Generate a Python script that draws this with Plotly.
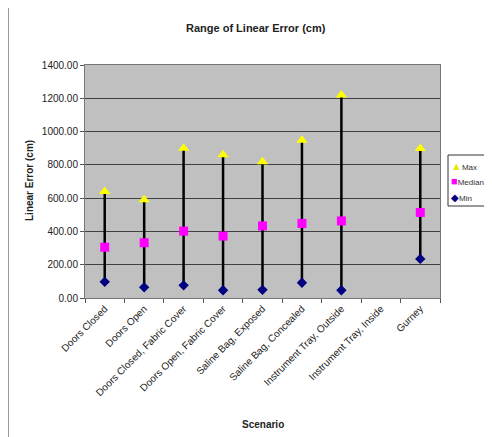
import plotly.graph_objects as go

categories = ["Doors Closed", "Doors Open", "Doors Closed, Fabric Cover",
              "Doors Open, Fabric Cover", "Saline Bag, Exposed", "Saline Bag, Concealed",
              "Instrument Tray, Outside", "Instrument Tray, Inside", "Gurney"]
max_vals = [640, 590, 900, 860, 818, 948, 1220, None, 898]
median_vals = [305, 332, 402, 372, 433, 448, 463, None, 514]
min_vals = [97, 64, 76, 47, 49, 92, 47, None, 235]
series_names = ["Max", "Median", "Min"]

# page body has an 8px margin; work in window pixels and convert
OFF = 8
W, H = 492 - OFF, 437 - OFF
L, R, T, B = 85 - OFF, 440 - OFF, 65 - OFF, 298 - OFF


def px(x):
    return (x - OFF - L) / (R - L)


def py(y):
    return (B - (y - OFF)) / (B - T)


# high-low lines built from the data
lx, ly = [], []
for c, lo, hi in zip(categories, min_vals, max_vals):
    if lo is None or hi is None:
        continue
    lx += [c, c, None]
    ly += [lo, hi, None]

fig = go.Figure()
fig.add_trace(go.Scatter(x=lx, y=ly, mode="lines", line=dict(color="black", width=2.5),
                         showlegend=False, hoverinfo="skip", connectgaps=False))
fig.add_trace(go.Scatter(x=categories, y=max_vals, mode="markers", name=series_names[0],
                         marker=dict(symbol="triangle-up", color="#ffff00", size=10)))
fig.add_trace(go.Scatter(x=categories, y=median_vals, mode="markers", name=series_names[1],
                         marker=dict(symbol="square", color="#ff00ff", size=9)))
fig.add_trace(go.Scatter(x=categories, y=min_vals, mode="markers", name=series_names[2],
                         marker=dict(symbol="diamond", color="#000080", size=8)))

font = "Liberation Sans, Arial, sans-serif"

legend_syms = ["<span style='color:#e8e800;font-size:11px'>▲</span>",
               "<span style='color:#ff00ff;font-size:11px'>■</span>",
               "<span style='color:#000080;font-size:10px'>◆</span>"]
legend_y = [166, 181, 197]

annotations = [
    dict(text="<b>Range of Linear Error (cm)</b>", xref="paper", yref="paper",
         x=px(256), y=py(28), showarrow=False,
         font=dict(size=11, color="#222"), xanchor="center", yanchor="middle"),
    dict(text="<b>Linear Error (cm)</b>", xref="paper", yref="paper",
         x=px(29), y=py(180), textangle=-90, showarrow=False,
         font=dict(size=10, color="#222"), xanchor="center", yanchor="middle"),
    dict(text="<b>Scenario</b>", xref="paper", yref="paper",
         x=px(263), y=py(424), showarrow=False,
         font=dict(size=10, color="#222"), xanchor="center", yanchor="middle"),
]
for sym, name, yy in zip(legend_syms, series_names, legend_y):
    annotations.append(dict(text=sym + name, xref="paper", yref="paper",
                            x=px(449), y=py(yy), showarrow=False,
                            xanchor="left", yanchor="middle",
                            font=dict(size=8, color="#333")))

fig.update_layout(
    width=W, height=H,
    margin=dict(l=L, r=W - R, t=T, b=H - B, autoexpand=False),
    paper_bgcolor="white", plot_bgcolor="#c0c0c0",
    font=dict(family=font, size=10, color="black"),
    showlegend=False,
    xaxis=dict(type="category", categoryorder="array", categoryarray=categories,
               range=[-0.5, len(categories) - 0.5],
               tickangle=-45, tickson="boundaries", ticks="outside", ticklen=4,
               tickcolor="#555", showgrid=False, showline=True, linecolor="#777",
               linewidth=1, tickfont=dict(size=10, color="#222"), mirror=True),
    yaxis=dict(range=[0, 1400], dtick=200, tickformat=".2f", ticks="outside", ticklen=4,
               tickcolor="#555", showgrid=True, gridcolor="#404040", gridwidth=1,
               showline=True, linecolor="#777", mirror=True, zeroline=False,
               tickfont=dict(size=10, color="#222")),
    annotations=annotations,
    shapes=[
        dict(type="rect", xref="paper", yref="paper", layer="below",
             x0=px(8.5), x1=px(520), y0=py(460), y1=py(7.5),
             line=dict(color="#999", width=1)),
        dict(type="rect", xref="paper", yref="paper", layer="above",
             x0=px(448), x1=px(491), y0=py(206), y1=py(155),
             fillcolor="white", line=dict(color="#333", width=1)),
    ],
)

fig.write_html("out.html")
